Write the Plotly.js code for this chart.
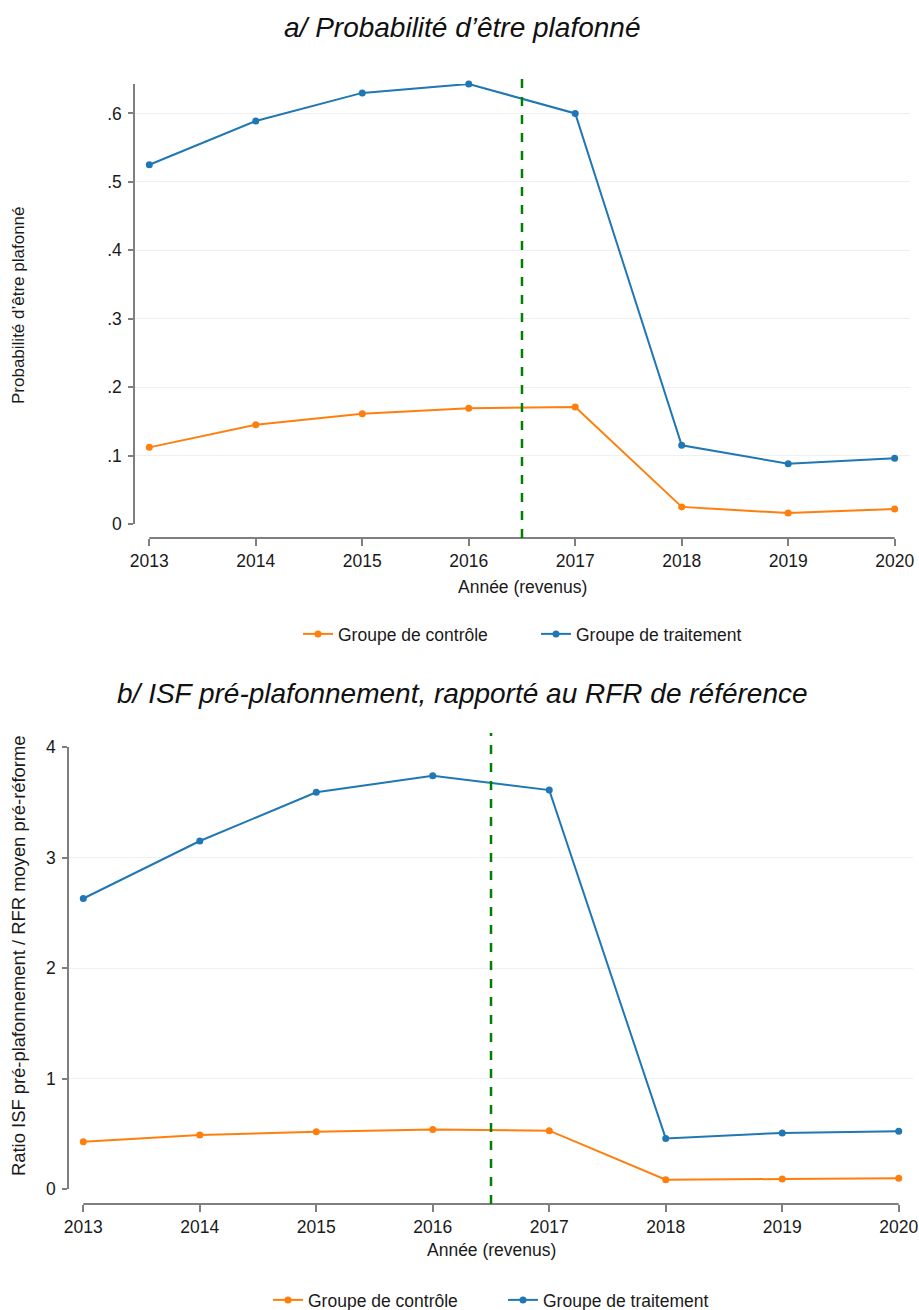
<!DOCTYPE html>
<html>
<head>
<meta charset="utf-8">
<script src="https://cdn.plot.ly/plotly-3.0.1.min.js"></script>
<style>html,body{margin:0;padding:0;background:#fff;}#chart{width:919px;height:1310px;}</style>
</head>
<body>
<div id="chart"></div>
<script>
const years = [2013, 2014, 2015, 2016, 2017, 2018, 2019, 2020];
const probControl = [0.112, 0.145, 0.161, 0.169, 0.171, 0.025, 0.016, 0.022];
const probTreat = [0.525, 0.589, 0.630, 0.643, 0.600, 0.115, 0.088, 0.096];
const ratioControl = [0.43, 0.49, 0.52, 0.54, 0.53, 0.087, 0.093, 0.099];
const ratioTreat = [2.63, 3.15, 3.59, 3.74, 3.61, 0.46, 0.51, 0.524];
const probTickVals = [0, 0.1, 0.2, 0.3, 0.4, 0.5, 0.6];
const probTickText = ['0', '.1', '.2', '.3', '.4', '.5', '.6'];
const ratioTickVals = [0, 1, 2, 3, 4];
const seriesNames = ['Groupe de contrôle', 'Groupe de traitement'];
const reformYear = 2016.5;

const ORANGE = '#ff7f0e', BLUE = '#1f77b4', GREEN = '#008000', AXIS = '#7f7f7f';
const FONT = 'Liberation Sans, Arial, sans-serif';
const H = 1310, W = 919;
const py = v => 1 - v / H;
const px = v => v / W;

function tr(y, name, color, xa, ya, leg) {
  return {x: years, y: y, name: name, type: 'scatter', mode: 'lines+markers',
    line: {color: color, width: 2}, marker: {color: color, size: 7},
    xaxis: xa, yaxis: ya, legend: leg, cliponaxis: false};
}

const data = [
  tr(probControl, seriesNames[0], ORANGE, 'x', 'y', 'legend'),
  tr(probTreat, seriesNames[1], BLUE, 'x', 'y', 'legend'),
  tr(ratioControl, seriesNames[0], ORANGE, 'x2', 'y2', 'legend2'),
  tr(ratioTreat, seriesNames[1], BLUE, 'x2', 'y2', 'legend2')
];

const tickfont = {family: FONT, size: 17.5, color: '#1a1a1a'};
function xax(domain, range, pos) {
  return {domain: domain, range: range, anchor: 'free', position: pos,
    tickvals: years, ticks: 'outside', ticklen: 7, tickwidth: 2, tickcolor: AXIS,
    showgrid: false, zeroline: false, showline: false, tickfont: tickfont, fixedrange: true};
}
function yax(domain, range, anchor, tv, tt) {
  const o = {domain: domain, range: range, anchor: anchor, tickvals: tv,
    ticks: 'outside', ticklen: 5, tickwidth: 2, tickcolor: AXIS,
    showline: true, linecolor: AXIS, linewidth: 2,
    showgrid: true, gridcolor: '#efefef', gridwidth: 1, zeroline: false,
    tickfont: tickfont, ticklabelstandoff: 3, fixedrange: true};
  if (tt) o.ticktext = tt;
  return o;
}

const layout = {
  width: W, height: H, margin: {l: 0, r: 0, t: 0, b: 0, autoexpand: false},
  paper_bgcolor: '#fff', plot_bgcolor: '#fff',
  font: {family: FONT, color: '#1a1a1a'},
  xaxis: xax([px(135.3), px(910)], [2012.8685, 2020.144], py(538)),
  yaxis: yax([py(524), py(84)], [0, 0.643], 'x', probTickVals, probTickText),
  xaxis2: xax([px(69.3), px(912.7)], [2012.8798, 2020.12], py(1204)),
  yaxis2: yax([py(1189.3), py(747)], [0, 4], 'x2', ratioTickVals, null),
  legend: {orientation: 'h', x: px(536), xanchor: 'center', y: py(634), yanchor: 'middle',
    font: {family: FONT, size: 17.5, color: '#1a1a1a'}, entrywidth: 193, entrywidthmode: 'pixels', bgcolor: 'rgba(0,0,0,0)'},
  legend2: {orientation: 'h', x: px(503), xanchor: 'center', y: py(1300), yanchor: 'middle',
    font: {family: FONT, size: 17.5, color: '#1a1a1a'}, entrywidth: 190, entrywidthmode: 'pixels', bgcolor: 'rgba(0,0,0,0)'},
  shapes: [
    {type: 'line', xref: 'x', yref: 'paper', x0: years[0], x1: years[years.length - 1], y0: py(538), y1: py(538), line: {color: AXIS, width: 2}},
    {type: 'line', xref: 'x2', yref: 'paper', x0: years[0], x1: years[years.length - 1], y0: py(1204), y1: py(1204), line: {color: AXIS, width: 2}},
    {type: 'line', xref: 'x', yref: 'paper', x0: reformYear, x1: reformYear, y0: py(538), y1: py(70), line: {color: GREEN, width: 2.5, dash: 'dash'}},
    {type: 'line', xref: 'x2', yref: 'paper', x0: reformYear, x1: reformYear, y0: py(1204), y1: py(733), line: {color: GREEN, width: 2.5, dash: 'dash'}}
  ],
  annotations: [
    {text: '<i>a/ Probabilité d’être plafonné</i>', xref: 'paper', yref: 'paper', x: px(462), y: py(28), xanchor: 'center', yanchor: 'middle', showarrow: false, font: {family: FONT, size: 28, color: '#111'}},
    {text: '<i>b/ ISF pré-plafonnement, rapporté au RFR de référence</i>', xref: 'paper', yref: 'paper', x: px(462), y: py(693), xanchor: 'center', yanchor: 'middle', showarrow: false, font: {family: FONT, size: 28, color: '#111'}},
    {text: 'Année (revenus)', xref: 'paper', yref: 'paper', x: px(522), y: py(587), xanchor: 'center', yanchor: 'middle', showarrow: false, font: {family: FONT, size: 17.5, color: '#1a1a1a'}},
    {text: 'Année (revenus)', xref: 'paper', yref: 'paper', x: px(491), y: py(1250), xanchor: 'center', yanchor: 'middle', showarrow: false, font: {family: FONT, size: 17.5, color: '#1a1a1a'}},
    {text: 'Probabilité d’être plafonné', xref: 'paper', yref: 'paper', x: px(18), y: py(305), xanchor: 'center', yanchor: 'middle', textangle: -90, showarrow: false, font: {family: FONT, size: 17, color: '#1a1a1a'}},
    {text: 'Ratio ISF pré-plafonnement / RFR moyen pré-réforme', xref: 'paper', yref: 'paper', x: px(18), y: py(956), xanchor: 'center', yanchor: 'middle', textangle: -90, showarrow: false, font: {family: FONT, size: 18.4, color: '#1a1a1a'}}
  ]
};

Plotly.newPlot('chart', data, layout, {staticPlot: true, displayModeBar: false});
</script>
</body>
</html>
